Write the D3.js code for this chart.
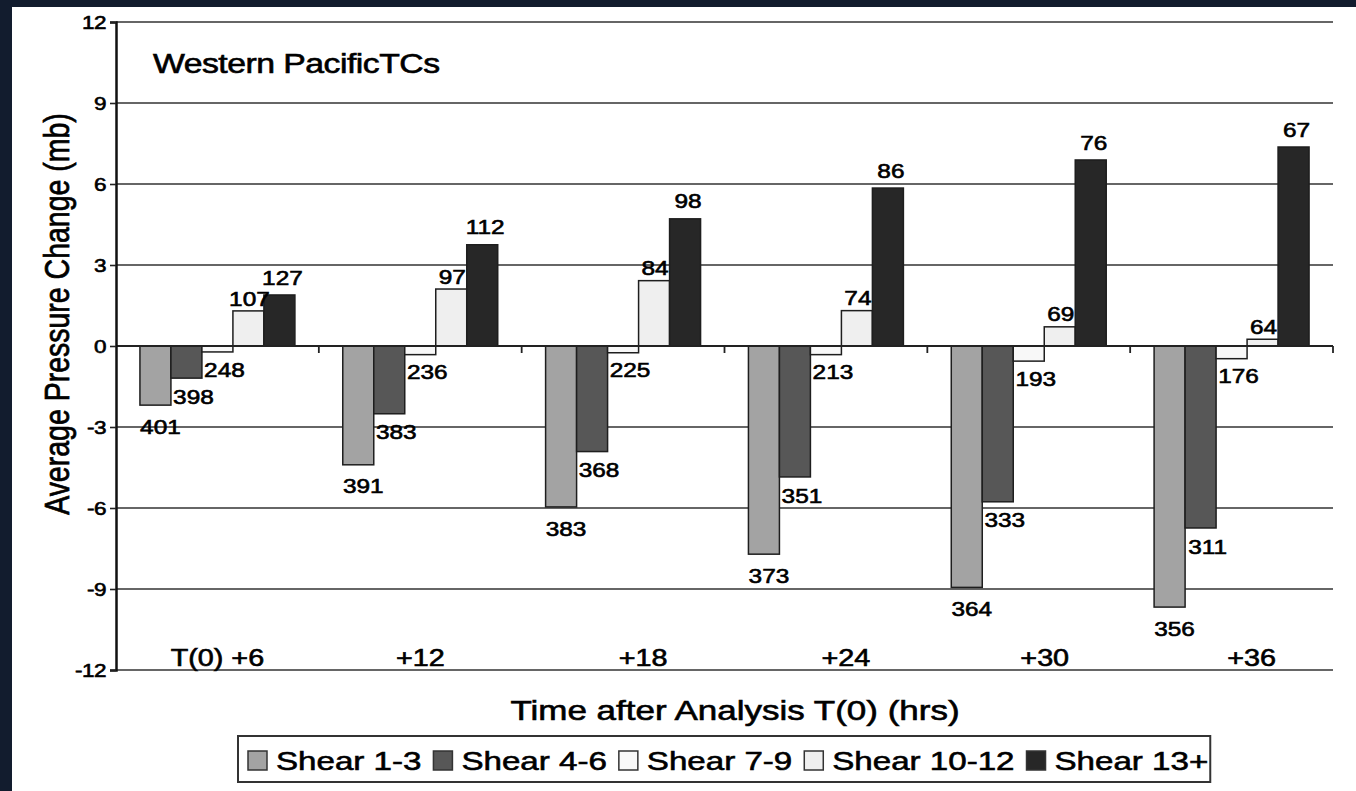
<!DOCTYPE html>
<html>
<head>
<meta charset="utf-8">
<script src="https://cdn.jsdelivr.net/npm/d3@7"></script>
<style>
  html, body { margin: 0; padding: 0; background: #121c2e; }
  svg { display: block; }
  text { font-family: "Liberation Sans", Arial, sans-serif; fill: #000; stroke: #000; stroke-width: 0.6px; }
</style>
</head>
<body>
<svg id="chart" width="1356" height="791"></svg>
<script>
// Forecast hours after analysis time
const categories = ["T(0) +6", "+12", "\u00a0\u00a0\u00a0\u00a0\u00a0+18", "\u00a0\u00a0\u00a0\u00a0\u00a0+24", "\u00a0\u00a0\u00a0\u00a0+30", "\u00a0\u00a0\u00a0\u00a0\u00a0+36"];
const seriesNames = ["Shear 1-3", "Shear 4-6", "Shear 7-9", "Shear 10-12", "Shear 13+"];

// Average pressure change (mb) per shear class
const shear1to3 = [-2.19, -4.40, -5.96, -7.71, -8.94, -9.67];
const shear4to6 = [-1.19, -2.51, -3.91, -4.85, -5.77, -6.74];
const shear7to9 = [-0.22, -0.32, -0.25, -0.32, -0.56, -0.47];
const shear10to12 = [1.30, 2.11, 2.42, 1.31, 0.71, 0.25];
const shear13plus = [1.89, 3.75, 4.71, 5.85, 6.89, 7.37];

// Number of cases behind each average
const count1to3 = [401, 391, 383, 373, 364, 356];
const count4to6 = [398, 383, 368, 351, 333, 311];
const count7to9 = [248, 236, 225, 213, 193, 176];
const count10to12 = [107, 97, 84, 74, 69, 64];
const count13plus = [127, 112, 98, 86, 76, 67];

const yTicks = [-12, -9, -6, -3, 0, 3, 6, 9, 12];

const seriesValues = [shear1to3, shear4to6, shear7to9, shear10to12, shear13plus];
const seriesCounts = [count1to3, count4to6, count7to9, count10to12, count13plus];
const fills = ["#a3a3a3", "#575757", "#f8f8f8", "#efefef", "#272727"];
// label placement relative to the bar end: [dx, dy]
const labelShift = [[5, 22], [7, 19], [7, 18], [1, -12], [3, -17]];

const SX = 1.25; // horizontal glyph stretch
const svg = d3.select("#chart");

// white page panel
svg.append("rect").attr("x", 12).attr("y", 7).attr("width", 1356 - 12).attr("height", 791 - 7).attr("fill", "#fff");

const plot = { left: 116, right: 1333, top: 22, bottom: 670 };

const x0 = d3.scaleBand().domain(d3.range(categories.length)).range([plot.left, plot.right]).padding(0);
const bw = x0.bandwidth();
const x1 = d3.scaleBand().domain(d3.range(seriesNames.length)).range([bw * 0.118, bw * 0.882]).padding(0);
const y = d3.scaleLinear().domain([-12, 12]).range([plot.bottom, plot.top]);

function place(sel, x, yy, extra) {
  sel.attr("transform", `translate(${x},${yy}) ${extra || ""} scale(${SX},1)`);
  return sel;
}

// horizontal gridlines
svg.append("g").selectAll("line").data(yTicks).join("line")
  .attr("x1", plot.left).attr("x2", plot.right)
  .attr("y1", d => y(d)).attr("y2", d => y(d))
  .attr("stroke", "#333").attr("stroke-width", 1.6);

// bars
const groups = svg.append("g").selectAll("g").data(categories).join("g")
  .attr("transform", (d, i) => `translate(${x0(i)},0)`);

groups.each(function (c, ci) {
  const g = d3.select(this);
  seriesValues.forEach((vals, si) => {
    const v = vals[ci];
    g.append("rect")
      .attr("x", x1(si))
      .attr("width", x1.bandwidth())
      .attr("y", y(Math.max(0, v)))
      .attr("height", Math.abs(y(v) - y(0)))
      .attr("fill", fills[si])
      .attr("stroke", "#1e1e1e")
      .attr("stroke-width", 1.5);
  });
});

// zero line with category separators
const zeroAxis = svg.append("g").attr("transform", `translate(0,${y(0)})`);
zeroAxis.append("line").attr("x1", plot.left).attr("x2", plot.right)
  .attr("stroke", "#222").attr("stroke-width", 1.8);
zeroAxis.selectAll("line.sep").data(d3.range(categories.length)).join("line")
  .attr("class", "sep")
  .attr("x1", i => x0(i) + bw).attr("x2", i => x0(i) + bw)
  .attr("y1", 0).attr("y2", 7)
  .attr("stroke", "#222").attr("stroke-width", 1.8);

// count labels
groups.each(function (c, ci) {
  const g = d3.select(this);
  seriesCounts.forEach((cnts, si) => {
    const v = seriesValues[si][ci];
    const t = g.append("text")
      .attr("text-anchor", "middle")
      .attr("dominant-baseline", "central")
      .attr("font-size", 19.5)
      .text(cnts[ci]);
    place(t, x1(si) + x1.bandwidth() / 2 + labelShift[si][0], y(v) + labelShift[si][1]);
  });
});

// y axis
const yAxis = svg.append("g").attr("transform", `translate(${plot.left},0)`)
  .call(d3.axisLeft(y).tickValues(yTicks).tickSize(6).tickPadding(4).tickFormat(d => String(d)));
yAxis.select(".domain").attr("stroke", "#111").attr("stroke-width", 2.5);
yAxis.selectAll(".tick line").attr("stroke", "#222").attr("stroke-width", 1.6);
yAxis.selectAll(".tick text")
  .attr("x", null).attr("dy", null)
  .attr("dominant-baseline", "central")
  .attr("font-size", 18).attr("letter-spacing", -0.4)
  .attr("font-family", "Liberation Sans, Arial, sans-serif")
  .attr("fill", "#000")
  .attr("transform", `translate(-10,0) scale(${SX},1)`);

// category labels along the bottom
svg.append("g").selectAll("text").data(categories).join("text")
  .attr("text-anchor", "middle")
  .attr("dominant-baseline", "central")
  .attr("font-size", 23)
  .text(d => d)
  .each(function (d, i) { place(d3.select(this), x0(i) + bw / 2, plot.bottom - 12); });

// chart title
place(svg.append("text").attr("font-size", 27).attr("letter-spacing", -0.4)
  .text("Western PacificTCs"), 153, 73);

// axis titles
place(svg.append("text").attr("text-anchor", "middle").attr("font-size", 28)
  .text("Time after Analysis T(0) (hrs)"), 735, 720);

svg.append("text").attr("text-anchor", "middle").attr("font-size", 28.5)
  .attr("dominant-baseline", "central")
  .attr("transform", `translate(57,314) rotate(-90) scale(1,${SX})`)
  .text("Average Pressure Change (mb)");

// legend
const legend = svg.append("g");
const legBox = legend.append("rect").attr("x", 238).attr("y", 736).attr("height", 46)
  .attr("fill", "#fff").attr("stroke", "#333").attr("stroke-width", 2);
let lx = 248;
seriesNames.forEach((name, si) => {
  legend.append("rect").attr("x", lx).attr("y", 751).attr("width", 19).attr("height", 19)
    .attr("fill", fills[si]).attr("stroke", "#333").attr("stroke-width", 1.5);
  lx += 19 + 9;
  const t = legend.append("text").attr("dominant-baseline", "central")
    .attr("font-size", 26.5).text(name);
  place(t, lx, 761);
  lx += t.node().getComputedTextLength() * SX + 12;
});
legBox.attr("width", lx - 238 - 10);
</script>
</body>
</html>
